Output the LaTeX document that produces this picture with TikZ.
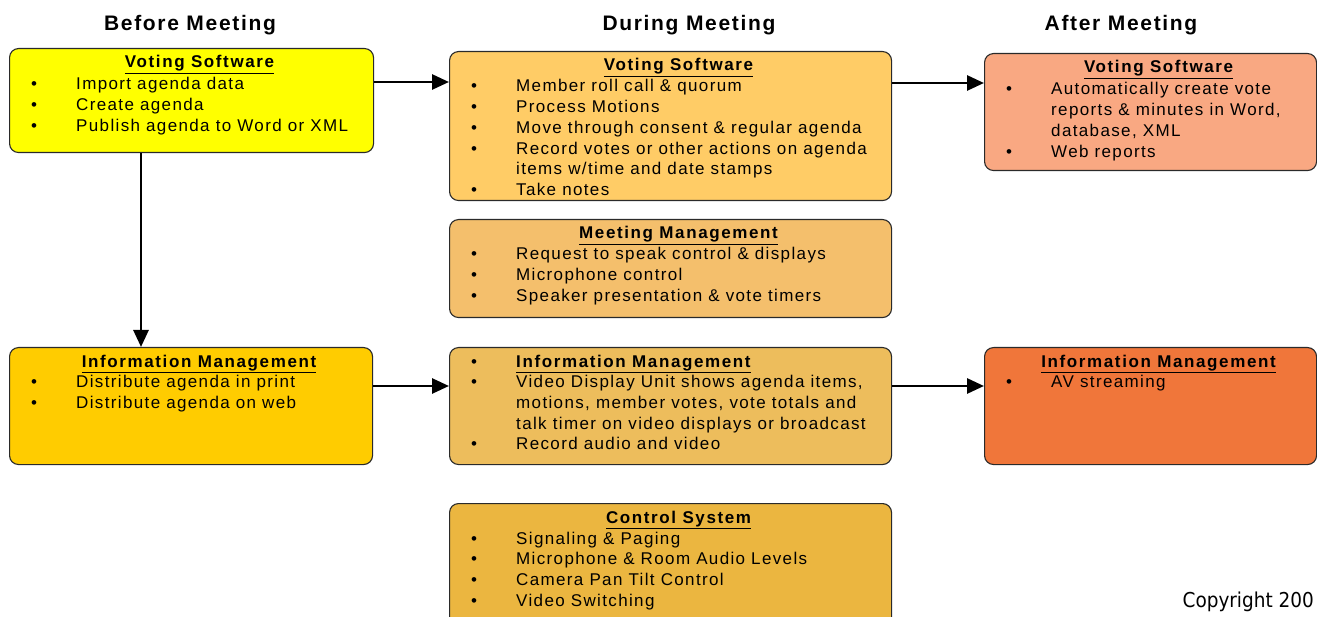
\documentclass[tikz,border=0pt]{standalone}
\usepackage{fontspec}
\setmainfont{Liberation Sans}
\newfontfamily\bodyf{Liberation Sans}[LetterSpace=8]
\newfontfamily\titlef{Liberation Sans}[LetterSpace=9.5]
\newfontfamily\headf{Liberation Sans}[LetterSpace=8]
\newfontfamily\copyf{DejaVu Sans Condensed}
\usetikzlibrary{arrows.meta}
\definecolor{cBVS}{HTML}{FFFF00}
\definecolor{cBIM}{HTML}{FFCC00}
\definecolor{cDVS}{HTML}{FFCC66}
\definecolor{cDMM}{HTML}{F4BF6C}
\definecolor{cDIM}{HTML}{EDBD5C}
\definecolor{cDCS}{HTML}{EBB640}
\definecolor{cAVS}{HTML}{F9A882}
\definecolor{cAIM}{HTML}{F0763A}
\definecolor{edge}{HTML}{2A2A2A}
\newcommand\ttl[1]{\underline{{\titlef\bfseries #1}}}
\newcommand\bl{\textbullet}
\tikzset{
  box/.style={draw=edge, line width=1.1pt, rounded corners=9pt, anchor=north west, inner sep=0pt},
  head/.style={font=\headf\bfseries\fontsize{21}{25}\selectfont, anchor=base, inner sep=0pt},
  ttlnode/.style={font=\bodyf\fontsize{17}{20.7}\selectfont, anchor=base, inner sep=0pt},
  lst/.style={font=\bodyf\fontsize{17}{20.7}\selectfont, anchor=base west, inner sep=0pt, align=left},
  arr/.style={line width=2.8pt, -{Triangle[length=17pt,width=15pt]}}
}
\begin{document}
\begin{tikzpicture}[x=1pt,y=-1pt]
\useasboundingbox (0,0) rectangle (1317,617);
\clip (0,0) rectangle (1317,617);
% headers
\node[head] (hB) at (190,31) {Before Meeting};
\node[head] (hD) at (689,31) {During Meeting};
\node[head] (hA) at (1121,31) {After Meeting};
% boxes
\node[box, fill=cBVS, minimum width=364pt, minimum height=104pt] (bvs) at (9,48) {};
\node[box, fill=cBIM, minimum width=363pt, minimum height=117pt] (bim) at (9,347) {};
\node[box, fill=cDVS, minimum width=442pt, minimum height=149pt] (dvs) at (449,51) {};
\node[box, fill=cDMM, minimum width=442pt, minimum height=98pt] (dmm) at (449,219) {};
\node[box, fill=cDIM, minimum width=442pt, minimum height=117pt] (dim) at (449,347) {};
\node[box, fill=cDCS, minimum width=442pt, minimum height=130pt] (dcs) at (449,503) {};
\node[box, fill=cAVS, minimum width=332pt, minimum height=117pt] (avs) at (984,53) {};
\node[box, fill=cAIM, minimum width=332pt, minimum height=117pt] (aim) at (984,347) {};
% titles
\node[ttlnode] (bvsT) at ([xshift=8pt,yshift=-20pt]bvs.north) {\ttl{Voting Software}};
\node[ttlnode] (bimT) at ([xshift=8pt,yshift=-20pt]bim.north) {\ttl{Information Management}};
\node[ttlnode] (dvsT) at ([xshift=8pt,yshift=-20pt]dvs.north) {\ttl{Voting Software}};
\node[ttlnode] (dmmT) at ([xshift=8pt,yshift=-20pt]dmm.north) {\ttl{Meeting Management}};
\node[ttlnode] (dcsT) at ([xshift=8pt,yshift=-20pt]dcs.north) {\ttl{Control System}};
\node[ttlnode] (avsT) at ([xshift=8pt,yshift=-20pt]avs.north) {\ttl{Voting Software}};
\node[ttlnode] (aimT) at ([xshift=8pt,yshift=-20pt]aim.north) {\ttl{Information Management}};
% lists
\node[lst] (bvsL) at ([xshift=22pt,yshift=-42pt]bvs.north west) {\begin{tabular}[t]{@{}p{45pt}@{}l@{}}
\bl & Import agenda data\\
\bl & Create agenda\\
\bl & Publish agenda to Word or XML
\end{tabular}};
\node[lst] (bimL) at ([xshift=22pt,yshift=-41pt]bim.north west) {\begin{tabular}[t]{@{}p{45pt}@{}l@{}}
\bl & Distribute agenda in print\\
\bl & Distribute agenda on web
\end{tabular}};
\node[lst] (dvsL) at ([xshift=22pt,yshift=-41pt]dvs.north west) {\begin{tabular}[t]{@{}p{45pt}@{}l@{}}
\bl & Member roll call \& quorum\\
\bl & Process Motions\\
\bl & Move through consent \& regular agenda\\
\bl & Record votes or other actions on agenda\\
    & items w/time and date stamps\\
\bl & Take notes
\end{tabular}};
\node[lst] (dmmL) at ([xshift=22pt,yshift=-41pt]dmm.north west) {\begin{tabular}[t]{@{}p{45pt}@{}l@{}}
\bl & Request to speak control \& displays\\
\bl & Microphone control\\
\bl & Speaker presentation \& vote timers
\end{tabular}};
\node[lst] (dimL) at ([xshift=22pt,yshift=-20pt]dim.north west) {\begin{tabular}[t]{@{}p{45pt}@{}l@{}}
\bl & \ttl{Information Management}\\
\bl & Video Display Unit shows agenda items,\\
    & motions, member votes, vote totals and\\
    & talk timer on video displays or broadcast\\
\bl & Record audio and video
\end{tabular}};
\node[lst] (dcsL) at ([xshift=22pt,yshift=-41pt]dcs.north west) {\begin{tabular}[t]{@{}p{45pt}@{}l@{}}
\bl & Signaling \& Paging\\
\bl & Microphone \& Room Audio Levels\\
\bl & Camera Pan Tilt Control\\
\bl & Video Switching
\end{tabular}};
\node[lst] (avsL) at ([xshift=22pt,yshift=-42pt]avs.north west) {\begin{tabular}[t]{@{}p{45pt}@{}l@{}}
\bl & Automatically create vote\\
    & reports \& minutes in Word,\\
    & database, XML\\
\bl & Web reports
\end{tabular}};
\node[lst] (aimL) at ([xshift=22pt,yshift=-41pt]aim.north west) {\begin{tabular}[t]{@{}p{45pt}@{}l@{}}
\bl & AV streaming
\end{tabular}};
% connectors
\draw[arr] ([yshift=-34pt]bvs.north east) -- ([yshift=-34pt]bvs.north east -| dvs.west);
\draw[arr] ([yshift=-32pt]dvs.north east) -- ([yshift=-32pt]dvs.north east -| avs.west);
\draw[arr] ([xshift=132pt]bvs.south west) -- ([xshift=132pt]bvs.south west |- bim.north);
\draw[arr] ([yshift=-39pt]bim.north east) -- ([yshift=-39pt]bim.north east -| dim.west);
\draw[arr] ([yshift=-39pt]dim.north east) -- ([yshift=-39pt]dim.north east -| aim.west);
% copyright
\node[font=\copyf\fontsize{20.5}{24}\selectfont, anchor=base east, inner sep=0pt] (copy) at (1314,607) {Copyright 200};
\end{tikzpicture}
\end{document}
